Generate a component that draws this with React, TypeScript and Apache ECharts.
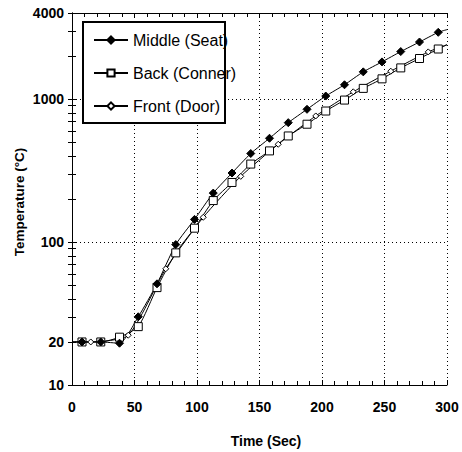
import React, { useEffect, useRef } from "react";
import * as echarts from "echarts";

// Time (s) at which Middle and Back markers are plotted
const timesMB = [0, 8, 23, 38, 53, 68, 83, 98, 113, 128, 143, 158, 173, 188, 203, 218, 233, 248, 263, 278, 293, 300];
const middleValues = [20, 20, 20, 19.6, 30, 51, 96, 144, 220, 304, 416, 532, 684, 848, 1050, 1259, 1550, 1820, 2149, 2507, 2931, 3060];
const backValues = [20, 20, 20, 21.6, 25.6, 48, 84, 125, 195, 261, 351, 434, 552, 667, 825, 984, 1188, 1385, 1652, 1922, 2240, 2400];
// Front (Door)
const frontTimes = [0, 15, 45, 75, 105, 135, 165, 195, 225, 255, 285, 300];
const frontValues = [20, 20, 22.3, 65, 149, 288, 483, 762, 1124, 1567, 2138, 2400];

const xTicks = [0, 50, 100, 150, 200, 250, 300];
const yLabelValues = [10, 20, 100, 1000, 4000];
const yTickValues = [10, 20, 30, 40, 50, 60, 70, 80, 90, 100, 200, 300, 400, 500, 600, 700, 800, 900, 1000, 2000, 3000, 4000];

const seriesNames = ["Middle (Seat)", "Back (Conner)", "Front (Door)"];

const FONT = "'Liberation Sans', Arial, sans-serif";

function buildData(times: number[], values: number[]) {
  const last = times.length - 1;
  return times.map((t, i) => {
    if (i === 0 || i === last) return { value: [t, values[i]], symbol: "none" };
    return { value: [t, values[i]] };
  });
}

export default function App() {
  const ref = useRef<HTMLDivElement>(null);
  useEffect(() => {
    document.body.style.margin = "0";
    if (!ref.current) return;
    const chart = echarts.init(ref.current, undefined, { renderer: "svg" });
    const axisLine = { show: true, lineStyle: { color: "#000", width: 1 } };
    const xCommon = {
      type: "value",
      min: xTicks[0],
      max: xTicks[xTicks.length - 1],
      interval: 50,
      axisLine,
      axisTick: { show: true, inside: true, length: 5, lineStyle: { color: "#000" } },
      minorTick: { show: true, splitNumber: 5, length: 4, lineStyle: { color: "#000" } },
    };
    const yCommon = {
      type: "log",
      logBase: 10,
      min: 10,
      max: 4000,
      axisLine,
    };
    chart.setOption({
      animation: false,
      backgroundColor: "#fff",
      grid: { left: 72, right: 15, top: 13, bottom: 67 },
      xAxis: [
        {
          ...xCommon,
          position: "bottom",
          axisLabel: {
            show: true,
            color: "#000",
            fontSize: 14,
            fontWeight: "bold",
            fontFamily: FONT,
            margin: 15,
          },
          splitLine: { show: true, lineStyle: { color: "#000", type: [1, 3], width: 1 } },
        },
        {
          ...xCommon,
          position: "top",
          axisLabel: { show: false },
          splitLine: { show: false },
        },
      ],
      yAxis: [
        {
          ...yCommon,
          position: "left",
          axisTick: { show: true, inside: true, length: 4, customValues: yTickValues, lineStyle: { color: "#000" } },
          axisLabel: {
            show: true,
            customValues: yLabelValues,
            formatter: (v: number) => String(Math.round(v)),
            color: "#000",
            fontSize: 14,
            fontWeight: "bold",
            fontFamily: FONT,
            margin: 8,
          },
          splitLine: { show: false },
        },
        {
          ...yCommon,
          position: "right",
          axisTick: { show: true, inside: true, length: 4, customValues: yTickValues, lineStyle: { color: "#000" } },
          axisLabel: { show: false },
          splitLine: { show: false },
        },
        {
          ...yCommon,
          position: "left",
          axisLine: { show: false },
          axisTick: { show: false },
          axisLabel: { show: false },
          splitLine: { show: true, lineStyle: { color: "#000", type: [1, 3], width: 1 } },
        },
      ],
      legend: {
        show: true,
        orient: "vertical",
        left: 83,
        top: 22,
        padding: [10, 0, 8, 10],
        itemWidth: 34,
        itemHeight: 9,
        itemGap: 17,
        data: seriesNames,
        textStyle: { color: "#000", fontSize: 16, fontFamily: FONT, lineHeight: 16 },
        z: 6,
      },
      graphic: [
        {
          type: "rect",
          shape: { x: 83, y: 22, width: 142, height: 101 },
          style: { fill: "#fff", stroke: null },
          z: 5,
        },
        {
          type: "rect",
          shape: { x: 83, y: 22, width: 142, height: 101 },
          style: { fill: "none", stroke: "#000", lineWidth: 2 },
          z: 100,
        },
        {
          type: "text",
          x: 266,
          y: 441,
          style: {
            text: "Time (Sec)",
            fill: "#000",
            font: `bold 14px ${FONT}`,
            align: "center",
            verticalAlign: "middle",
          },
          z: 100,
        },
        {
          type: "text",
          x: 19,
          y: 202,
          rotation: Math.PI / 2,
          style: {
            text: "Temperature (°C)",
            fill: "#000",
            font: `bold 13.5px ${FONT}`,
            align: "center",
            verticalAlign: "middle",
          },
          z: 100,
        },
      ],
      series: [
        {
          name: seriesNames[2],
          type: "line",
          xAxisIndex: 0,
          yAxisIndex: 0,
          data: buildData(frontTimes, frontValues),
          smooth: 0.2,
          symbol: "diamond",
          symbolSize: 6,
          showAllSymbol: true,
          lineStyle: { color: "#000", width: 1 },
          itemStyle: { color: "#fff", borderColor: "#000", borderWidth: 1 },
        },
        {
          name: seriesNames[1],
          type: "line",
          xAxisIndex: 0,
          yAxisIndex: 0,
          data: buildData(timesMB, backValues),
          smooth: 0.2,
          symbol: "rect",
          symbolSize: 8,
          showAllSymbol: true,
          lineStyle: { color: "#000", width: 1 },
          itemStyle: { color: "#fff", borderColor: "#000", borderWidth: 1 },
        },
        {
          name: seriesNames[0],
          type: "line",
          xAxisIndex: 0,
          yAxisIndex: 0,
          data: buildData(timesMB, middleValues),
          smooth: 0.2,
          symbol: "diamond",
          symbolSize: 8,
          showAllSymbol: true,
          lineStyle: { color: "#000", width: 1 },
          itemStyle: { color: "#000", borderColor: "#000", borderWidth: 1 },
        },
      ],
    });
    return () => chart.dispose();
  }, []);
  return <div ref={ref} style={{ width: 462, height: 452 }} />;
}
